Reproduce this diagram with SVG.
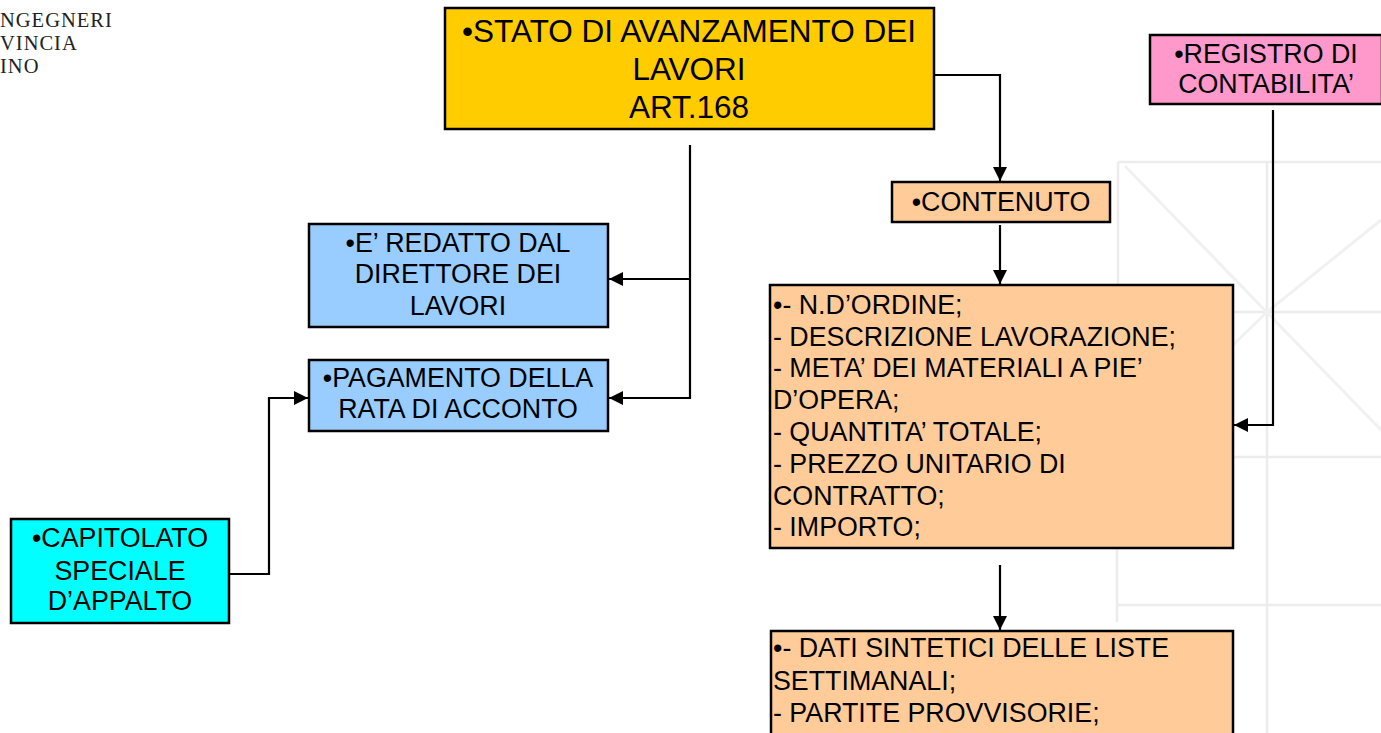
<svg xmlns="http://www.w3.org/2000/svg" width="1381" height="733" viewBox="0 0 1381 733">
<defs>
<style>
.box{stroke:#000;stroke-width:2.5}
.t{font-family:"Liberation Sans",Arial,sans-serif;font-size:26.8px;fill:#000}
.c{text-anchor:middle}
.big{font-size:31.5px}
.conn{fill:none;stroke:#000;stroke-width:2.2}
.wm{stroke:#ececec;stroke-width:2.5;fill:none}
.wd{stroke:#f1f1f1;stroke-width:3;fill:none}
.hdr{font-family:"Liberation Serif","Times New Roman",serif;font-size:20.5px;letter-spacing:1px;fill:#222}
</style>
<marker id="ah" viewBox="0 0 10 10" refX="10" refY="5" markerWidth="15" markerHeight="14" markerUnits="userSpaceOnUse" orient="auto">
<path d="M0,0 L10,5 L0,10 Z" fill="#000"/>
</marker>
</defs>
<rect width="1381" height="733" fill="#fff"/>
<g id="watermark">
<path class="wm" d="M1118,162 H1381 M1118,162 V330 M1117,548 V622 M1267,162 V733 M1233,312 H1381 M1233,457 H1381 M1118,605 H1381"/>
<path class="wd" d="M1125,166 L1381,430 M1233,345 L1267,312 L1381,220"/>
</g>
<g id="header">
<text class="hdr" x="0" y="27">NGEGNERI</text>
<text class="hdr" x="0" y="50">VINCIA</text>
<text class="hdr" x="0" y="73">INO</text>
</g>
<g id="connectors">
<path class="conn" d="M934,75 H1000 V181" marker-end="url(#ah)"/>
<path class="conn" d="M1000,225 V284" marker-end="url(#ah)"/>
<path class="conn" d="M1000,565 V630" marker-end="url(#ah)"/>
<path class="conn" d="M1273,110 V425 H1234" marker-end="url(#ah)"/>
<path class="conn" d="M690,145 V398 H609" marker-end="url(#ah)"/>
<path class="conn" d="M690,279 H609" marker-end="url(#ah)"/>
<path class="conn" d="M229,574 H269 V398 H308" marker-end="url(#ah)"/>
</g>
<g id="stato">
<rect class="box" x="445" y="8" width="489" height="121" fill="#FFCC00"/>
<text class="t c big" x="689" y="42">•STATO DI AVANZAMENTO DEI</text>
<text class="t c big" x="689" y="80">LAVORI</text>
<text class="t c big" x="689" y="118">ART.168</text>
</g>
<g id="registro">
<rect class="box" x="1150" y="35" width="232" height="69" fill="#FF99CC"/>
<text class="t c" x="1266" y="63">•REGISTRO DI</text>
<text class="t c" x="1266" y="93">CONTABILITA’</text>
</g>
<g id="contenuto">
<rect class="box" x="892" y="182" width="218" height="40" fill="#FFCC99"/>
<text class="t c" x="1001" y="211">•CONTENUTO</text>
</g>
<g id="voci">
<rect class="box" x="770" y="285" width="463" height="263" fill="#FFCC99"/>
<text class="t" x="773" y="313.5">•- N.D’ORDINE;</text>
<text class="t" x="773" y="345.5">- DESCRIZIONE LAVORAZIONE;</text>
<text class="t" x="773" y="377">- META’ DEI MATERIALI A PIE’</text>
<text class="t" x="773" y="409">D’OPERA;</text>
<text class="t" x="773" y="441">- QUANTITA’ TOTALE;</text>
<text class="t" x="773" y="472.5">- PREZZO UNITARIO DI</text>
<text class="t" x="773" y="504.5">CONTRATTO;</text>
<text class="t" x="773" y="536">- IMPORTO;</text>
</g>
<g id="dati">
<rect class="box" x="771" y="631" width="462" height="120" fill="#FFCC99"/>
<text class="t" x="773" y="657">•- DATI SINTETICI DELLE LISTE</text>
<text class="t" x="773" y="690">SETTIMANALI;</text>
<text class="t" x="773" y="722">- PARTITE PROVVISORIE;</text>
</g>
<g id="redatto">
<rect class="box" x="309" y="224" width="299" height="103" fill="#99CCFF"/>
<text class="t c" x="458" y="252">•E’ REDATTO DAL</text>
<text class="t c" x="458" y="283">DIRETTORE DEI</text>
<text class="t c" x="458" y="315">LAVORI</text>
</g>
<g id="pagamento">
<rect class="box" x="309" y="360" width="299" height="71" fill="#99CCFF"/>
<text class="t c" x="458" y="387">•PAGAMENTO DELLA</text>
<text class="t c" x="458" y="418">RATA DI ACCONTO</text>
</g>
<g id="capitolato">
<rect class="box" x="11" y="519" width="218" height="104" fill="#00FFFF"/>
<text class="t c" x="120" y="547">•CAPITOLATO</text>
<text class="t c" x="120" y="580">SPECIALE</text>
<text class="t c" x="120" y="610">D’APPALTO</text>
</g>
</svg>
